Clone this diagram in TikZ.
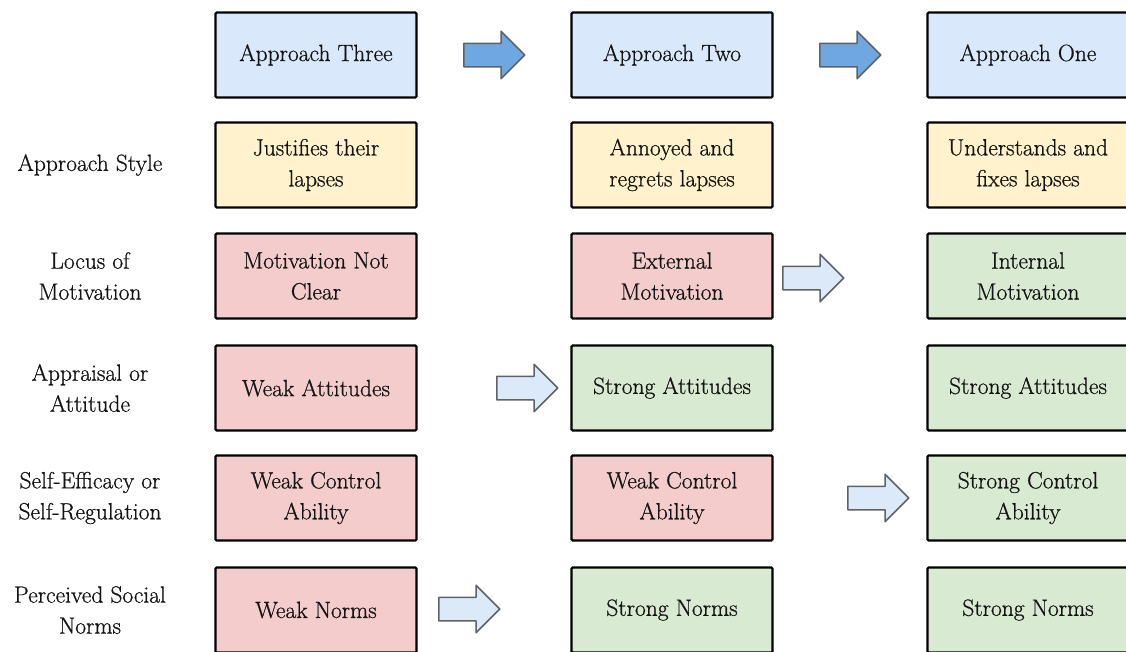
\documentclass[tikz,border=0pt]{standalone}
\usepackage{fontspec}
\setmainfont{Latin Modern Roman}[FakeBold=0.7]
\usetikzlibrary{shapes.arrows}

\definecolor{boxblue}{HTML}{DAE8FC}
\definecolor{boxyellow}{HTML}{FFF2CC}
\definecolor{boxred}{HTML}{F4CCCC}
\definecolor{boxgreen}{HTML}{D9EAD3}
\definecolor{arrowdark}{HTML}{6FA8E0}
\definecolor{arrowlight}{HTML}{DCE9F8}
\definecolor{edgegray}{HTML}{5F6368}
\definecolor{ink}{HTML}{141414}

\begin{document}
\begin{tikzpicture}[x=1pt,y=-1pt,
  txt/.style={font=\fontsize{23.5}{31}\selectfont, text=ink, align=center},
  cell/.style={txt, draw=black, line width=2.2pt, rounded corners=1.2pt,
    minimum width=201pt, minimum height=85pt, inner sep=0pt},
  headbox/.style={cell, fill=boxblue},
  lapsebox/.style={cell, fill=boxyellow},
  weakbox/.style={cell, fill=boxred},
  strongbox/.style={cell, fill=boxgreen},
  rowlabel/.style={txt, inner sep=0pt},
  blockarrow/.style={single arrow, draw=edgegray, line width=1.5pt, line join=round,
    inner xsep=0pt, inner ysep=11pt, minimum height=61pt,
    single arrow head extend=12pt, anchor=tail},
  darkarrow/.style={blockarrow, fill=arrowdark},
  lightarrow/.style={blockarrow, fill=arrowlight}
]
\useasboundingbox (0,0) rectangle (1126,651);
\fill[white] (0,0) rectangle (1126,651);

% column headers
\node[headbox] (h3) at (316,55)  {Approach Three};
\node[headbox] (h2) at (672,55)  {Approach Two};
\node[headbox] (h1) at (1028,55) {Approach One};

% row labels
\node[rowlabel] (lstyle) at (90,165) {Approach Style};
\node[rowlabel] (llocus) at (90,276) {Locus of\\Motivation};
\node[rowlabel] (lattit) at (90,388) {Appraisal or\\Attitude};
\node[rowlabel] (lcontr) at (90,498) {Self-Efficacy or\\Self-Regulation};
\node[rowlabel] (lnorms) at (90,610) {Perceived Social\\Norms};

% approach three
\node[lapsebox] (s3) at (316,165) {Justifies their\\lapses};
\node[weakbox]  (m3) at (316,276) {Motivation Not\\Clear};
\node[weakbox]  (a3) at (316,388) {Weak Attitudes};
\node[weakbox]  (c3) at (316,498) {Weak Control\\Ability};
\node[weakbox]  (n3) at (316,610) {Weak Norms};

% approach two
\node[lapsebox]  (s2) at (672,165) {Annoyed and\\regrets lapses};
\node[weakbox]   (m2) at (672,276) {External\\Motivation};
\node[strongbox] (a2) at (672,388) {Strong Attitudes};
\node[weakbox]   (c2) at (672,498) {Weak Control\\Ability};
\node[strongbox] (n2) at (672,610) {Strong Norms};

% approach one
\node[lapsebox]  (s1) at (1028,165) {Understands and\\fixes lapses};
\node[strongbox] (m1) at (1028,276) {Internal\\Motivation};
\node[strongbox] (a1) at (1028,388) {Strong Attitudes};
\node[strongbox] (c1) at (1028,498) {Strong Control\\Ability};
\node[strongbox] (n1) at (1028,610) {Strong Norms};

% progression arrows
\node[darkarrow]  (p32) at (463,55)  {};
\node[darkarrow]  (p21) at (819,55)  {};
\node[lightarrow] (pm)  at (782,278) {};
\node[lightarrow] (pa)  at (496,388) {};
\node[lightarrow] (pc)  at (847,498) {};
\node[lightarrow] (pn)  at (438,609) {};
\end{tikzpicture}
\end{document}
